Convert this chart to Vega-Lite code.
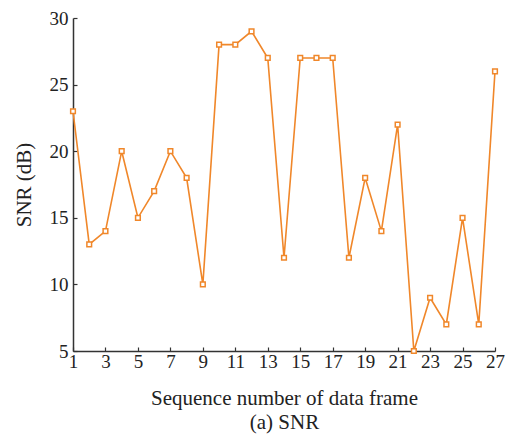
{
  "$schema": "https://vega.github.io/schema/vega-lite/v6.json",
  "autosize": "none",
  "width": 422,
  "height": 333,
  "padding": {"left": 73, "top": 18, "right": 12, "bottom": 83},
  "background": "white",
  "config": {
    "view": {"stroke": null},
    "font": "Liberation Serif",
    "axis": {
      "labelFont": "Liberation Serif",
      "titleFont": "Liberation Serif",
      "labelFontSize": 19,
      "titleFontSize": 21,
      "labelColor": "#222",
      "titleColor": "#222",
      "titleFontWeight": "normal",
      "domainColor": "#333",
      "tickColor": "#333",
      "domainWidth": 1.5,
      "tickWidth": 1.2,
      "tickSize": -4,
      "grid": false
    }
  },
  "data": {
    "values": [
      {"frame": 1, "snr": 23}, {"frame": 2, "snr": 13}, {"frame": 3, "snr": 14},
      {"frame": 4, "snr": 20}, {"frame": 5, "snr": 15}, {"frame": 6, "snr": 17},
      {"frame": 7, "snr": 20}, {"frame": 8, "snr": 18}, {"frame": 9, "snr": 10},
      {"frame": 10, "snr": 28}, {"frame": 11, "snr": 28}, {"frame": 12, "snr": 29},
      {"frame": 13, "snr": 27}, {"frame": 14, "snr": 12}, {"frame": 15, "snr": 27},
      {"frame": 16, "snr": 27}, {"frame": 17, "snr": 27}, {"frame": 18, "snr": 12},
      {"frame": 19, "snr": 18}, {"frame": 20, "snr": 14}, {"frame": 21, "snr": 22},
      {"frame": 22, "snr": 5}, {"frame": 23, "snr": 9}, {"frame": 24, "snr": 7},
      {"frame": 25, "snr": 15}, {"frame": 26, "snr": 7}, {"frame": 27, "snr": 26}
    ]
  },
  "encoding": {
    "x": {
      "field": "frame", "type": "quantitative",
      "scale": {"domain": [1, 27], "nice": false, "zero": false},
      "axis": {
        "values": [1,3,5,7,9,11,13,15,17,19,21,23,25,27],
        "labelPadding": 5,
        "labelFlush": false,
        "title": ["Sequence number of data frame", "(a) SNR"],
        "titlePadding": 16,
        "titleLineHeight": 24
      }
    },
    "y": {
      "field": "snr", "type": "quantitative",
      "scale": {"domain": [5, 30], "nice": false, "zero": false},
      "axis": {
        "values": [5,10,15,20,25,30],
        "labelPadding": 9,
        "labelFlush": false,
        "title": "SNR (dB)",
        "titlePadding": 15
      }
    }
  },
  "layer": [
    {"mark": {"type": "line", "color": "#F0872A", "strokeWidth": 1.6}},
    {"mark": {"type": "point", "shape": "square", "filled": false, "color": "#F0872A", "size": 22, "strokeWidth": 1.5, "fill": "white", "opacity": 1}}
  ]
}
